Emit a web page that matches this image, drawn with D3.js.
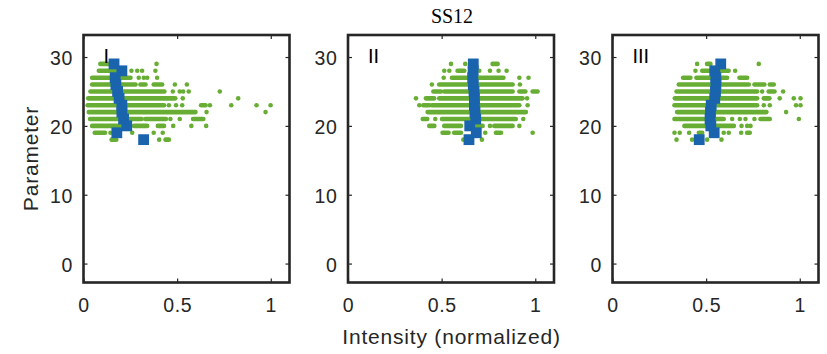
<!DOCTYPE html>
<html><head><meta charset="utf-8">
<script src="https://cdn.jsdelivr.net/npm/d3@7"></script>
<style>
body{margin:0;background:#fff;}
svg{display:block;}
</style></head>
<body><svg id="c" width="827" height="354"></svg>
<script>
// ---------- data ----------
const title = "SS12";
const panelNames = ["I", "II", "III"];
const xTicks = [0, 0.5, 1];
const yTicks = [0, 10, 20, 30];
const xLabel = "Intensity (normalized)";
const yLabel = "Parameter";

// parameter value of each blue square (row)
const params = [29, 28, 27, 26, 25, 24, 23, 22, 21, 20, 19, 18];
// mean intensity per parameter (blue squares)
const meanI   = [0.163, 0.205, 0.169, 0.173, 0.182, 0.190, 0.205, 0.205, 0.214, 0.231, 0.178, 0.321];
const meanII  = [0.669, 0.668, 0.666, 0.669, 0.673, 0.675, 0.675, 0.678, 0.682, 0.650, 0.685, 0.646];
const meanIII = [0.578, 0.546, 0.552, 0.552, 0.550, 0.546, 0.527, 0.523, 0.521, 0.525, 0.543, 0.463];

// green scatter: [parameter, xStart, xEnd] (runs of overlapping points; single point when xStart==xEnd)
const scatterI = [
  [29,0.090,0.150],[29,0.390,0.390],
  [28,0.082,0.200],[28,0.256,0.256],[28,0.287,0.287],[28,0.313,0.313],[28,0.384,0.384],
  [27,0.046,0.251],[27,0.295,0.295],[27,0.322,0.322],[27,0.340,0.340],[27,0.393,0.393],
  [26,0.046,0.278],[26,0.304,0.331],[26,0.375,0.420],[26,0.488,0.488],[26,0.552,0.552],
  [25,0.037,0.432],[25,0.477,0.477],[25,0.514,0.514],[25,0.532,0.532],[25,0.562,0.562],[25,0.728,0.728],
  [24,0.025,0.490],[24,0.530,0.530],[24,0.826,0.826],
  [23,0.022,0.430],[23,0.456,0.456],[23,0.494,0.494],[23,0.527,0.527],[23,0.628,0.652],[23,0.675,0.675],[23,0.789,0.789],[23,0.924,0.924],[23,0.999,0.999],
  [22,0.028,0.598],[22,0.657,0.657],[22,0.972,0.972],
  [21,0.035,0.310],[21,0.330,0.440],[21,0.464,0.464],[21,0.514,0.514],[21,0.585,0.640],
  [20,0.046,0.250],[20,0.270,0.340],[20,0.397,0.430],[20,0.479,0.479],[20,0.576,0.576],[20,0.655,0.655],
  [19,0.060,0.115],[19,0.144,0.144],[19,0.260,0.260],[19,0.375,0.375],[19,0.423,0.423],
  [18,0.150,0.175],[18,0.404,0.404],[18,0.438,0.456]
];
const scatterII = [
  [29,0.550,0.550],[29,0.626,0.626],[29,0.772,0.799],
  [28,0.514,0.514],[28,0.541,0.541],[28,0.585,0.621],[28,0.701,0.701],[28,0.758,0.758],[28,0.804,0.804],[28,0.847,0.847],
  [27,0.511,0.511],[27,0.555,0.830],[27,0.915,0.915],[27,0.964,0.964],
  [26,0.448,0.448],[26,0.487,0.879],[26,0.918,0.918],
  [25,0.456,0.496],[25,0.514,0.879],[25,0.915,0.947],[25,0.986,1.012],
  [24,0.363,0.363],[24,0.416,0.460],[24,0.487,0.932],[24,0.956,0.956],
  [23,0.381,0.381],[23,0.402,0.434],[23,0.448,0.915],[23,0.959,0.959],
  [22,0.425,0.950],
  [21,0.399,0.423],[21,0.466,0.466],[21,0.502,0.896],[21,0.936,0.936],
  [20,0.434,0.461],[20,0.514,0.603],[20,0.683,0.719],[20,0.758,0.758],[20,0.781,0.879],[20,0.915,0.915],
  [19,0.505,0.537],[19,0.567,0.603],[19,0.733,0.733],[19,0.790,0.817],[19,0.986,0.986],
  [18,0.616,0.616],[18,0.715,0.715]
];
const scatterIII = [
  [29,0.452,0.452],[29,0.505,0.523],[29,0.781,0.781],
  [28,0.443,0.443],[28,0.479,0.620],[28,0.655,0.655],
  [27,0.377,0.416],[27,0.448,0.612],[27,0.678,0.719],
  [26,0.354,0.728],[26,0.758,0.811],[26,0.840,0.861],
  [25,0.342,0.772],[25,0.799,0.799],[25,0.834,0.865],[25,0.911,0.911],
  [24,0.333,0.772],[24,0.808,0.838],[24,0.893,0.893],[24,0.968,0.968],[24,1.004,1.004],
  [23,0.331,0.772],[23,0.808,0.808],[23,0.840,0.840],[23,0.980,0.980],[23,1.004,1.004],
  [22,0.345,0.822],[22,0.927,0.927],
  [21,0.331,0.594],[21,0.639,0.639],[21,0.680,0.680],[21,0.710,0.710],[21,0.758,0.758],[21,0.790,0.840],[21,0.995,0.995],
  [20,0.384,0.648],[20,0.689,0.689],[20,0.719,0.719],[20,0.737,0.737],
  [19,0.331,0.331],[19,0.359,0.359],[19,0.409,0.409],[19,0.461,0.479],[19,0.594,0.594],[19,0.621,0.621],[19,0.687,0.687],[19,0.719,0.733],
  [18,0.342,0.342],[18,0.425,0.425],[18,0.505,0.505],[18,0.582,0.582]
];

// ---------- drawing ----------
const svg = d3.select("#c");
svg.append("rect").attr("width",827).attr("height",354).attr("fill","#fff");

const GREEN = "#68ae35", BLUE = "#1a64ae", AX = "#262626";
const FONT = "'Liberation Sans', Arial, Helvetica, sans-serif";
const lefts = [83.5, 348, 612.5];
const PW = 206, TOP = 35, BOT = 282.5;
const y = d3.scaleLinear().domain([-2.75, 33.2]).range([BOT, TOP]);

const panels = [
  {name: panelNames[0], scatter: scatterI, mean: meanI},
  {name: panelNames[1], scatter: scatterII, mean: meanII},
  {name: panelNames[2], scatter: scatterIII, mean: meanIII}
];

panels.forEach((p, i) => {
  const L = lefts[i];
  const x = d3.scaleLinear().domain([0, 1.1]).range([L, L + PW]);
  const g = svg.append("g");

  // scatter
  g.append("g").selectAll("line").data(p.scatter).join("line")
    .attr("x1", d => x(d[1])).attr("x2", d => x(d[2]))
    .attr("y1", d => y(d[0])).attr("y2", d => y(d[0]))
    .attr("stroke", GREEN).attr("stroke-width", 4.6).attr("stroke-linecap", "round");

  // mean squares
  const S = 10.8;
  g.append("g").selectAll("rect").data(p.mean).join("rect")
    .attr("x", d => x(d) - S/2).attr("y", (d, k) => y(params[k]) - S/2)
    .attr("width", S).attr("height", S).attr("fill", BLUE);

  // axes
  const ax = g.append("g").attr("transform", `translate(0,${BOT})`)
    .call(d3.axisBottom(x).tickValues(xTicks).tickFormat(d3.format("~g")).tickSizeInner(-4).tickSizeOuter(0));
  ax.selectAll("text").attr("y", 16).attr("font-size", 19.5).attr("letter-spacing", "0.6px")
    .attr("font-family", FONT).attr("fill", AX);
  const axT = g.append("g").attr("transform", `translate(0,${TOP})`)
    .call(d3.axisTop(x).tickValues(xTicks).tickFormat("").tickSizeInner(-4).tickSizeOuter(0));
  const ay = g.append("g").attr("transform", `translate(${L},0)`)
    .call(d3.axisLeft(y).tickValues(yTicks).tickSizeInner(-4).tickSizeOuter(0));
  ay.selectAll("text").attr("x", -10.5).attr("dy", "0.4em").attr("font-size", 19.5).attr("letter-spacing", "0.6px")
    .attr("font-family", FONT).attr("fill", AX);
  const ayR = g.append("g").attr("transform", `translate(${L + PW},0)`)
    .call(d3.axisRight(y).tickValues(yTicks).tickFormat("").tickSizeInner(-4).tickSizeOuter(0));
  [ax, axT, ay, ayR].forEach(a => {
    a.select(".domain").remove();
    a.selectAll("line").attr("stroke", AX).attr("stroke-width", 1.2);
  });

  // box
  g.append("rect").attr("x", L).attr("y", TOP).attr("width", PW).attr("height", BOT - TOP)
    .attr("fill", "none").attr("stroke", AX).attr("stroke-width", 2.6);

  // panel label
  g.append("text").attr("x", L + 20).attr("y", 63).text(p.name)
    .attr("font-family", FONT).attr("font-size", 20).attr("fill", "#000");
});

// title
svg.append("text").attr("x", 452).attr("y", 22.7).attr("text-anchor", "middle")
  .attr("font-family", "'Liberation Serif', 'Times New Roman', serif").attr("font-size", 20)
  .attr("fill", "#000").text(title);

// axis labels
svg.append("text").attr("x", 451.5).attr("y", 344).attr("text-anchor", "middle")
  .attr("font-family", FONT).attr("font-size", 21).attr("letter-spacing", "0.8px")
  .attr("fill", AX).text(xLabel);
svg.append("text").attr("transform", "translate(38,158.5) rotate(-90)").attr("text-anchor", "middle")
  .attr("font-family", FONT).attr("font-size", 21).attr("letter-spacing", "0.8px")
  .attr("fill", AX).text(yLabel);
</script>
</body></html>
